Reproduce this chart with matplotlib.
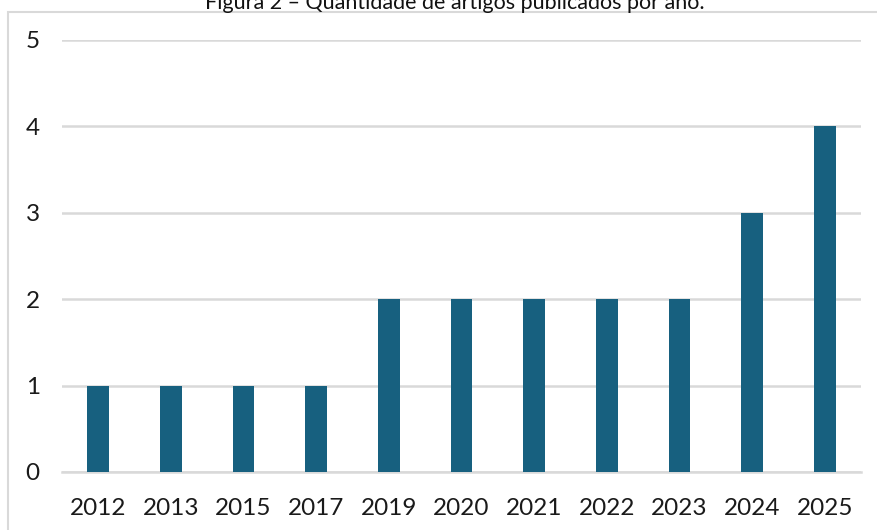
import matplotlib.pyplot as plt
from matplotlib.patches import Rectangle
import numpy as np

anos = ['2012', '2013', '2015', '2017', '2019', '2020', '2021', '2022', '2023', '2024', '2025']
artigos = [1, 1, 1, 1, 2, 2, 2, 2, 2, 3, 4]

W, H = 877, 530
fig = plt.figure(figsize=(W / 100, H / 100), dpi=100)
plt.rcParams['font.family'] = ['Lato', 'DejaVu Sans']

# frame da figura (cortado à direita e embaixo)
fig.patches.append(Rectangle((8 / W, -0.05), 1.1, 1.05 - 12 / H,
                             transform=fig.transFigure, fill=False,
                             edgecolor='#d9d9d9', linewidth=1.5))

fig.text(455 / W, 1 - 3 / H, 'Figura 2 – Quantidade de artigos publicados por ano.',
         ha='center', va='center', fontsize=15.5, color='#111111')

ax = fig.add_axes([62 / W, 1 - 472 / H, (861 - 62) / W, (472 - 40) / H])
x = np.arange(len(anos))
ax.bar(x, artigos, width=0.30, color='#17607f', zorder=3)

ax.set_xlim(-0.5, len(anos) - 0.5)
ax.set_ylim(0, 5)
ax.set_yticks(range(0, 6))
ax.set_xticks(x)
ax.set_xticklabels(anos)
ax.grid(axis='y', color='#d9d9d9', linewidth=1.8, zorder=0)
for s in ['top', 'right', 'left']:
    ax.spines[s].set_visible(False)
ax.spines['bottom'].set_color('#d9d9d9')
ax.spines['bottom'].set_linewidth(1.8)
ax.tick_params(axis='both', length=0, labelsize=17.5, colors='#1a1a1a')
ax.tick_params(axis='y', pad=16)
ax.tick_params(axis='x', pad=19)

fig.savefig('out.png', dpi=100)
